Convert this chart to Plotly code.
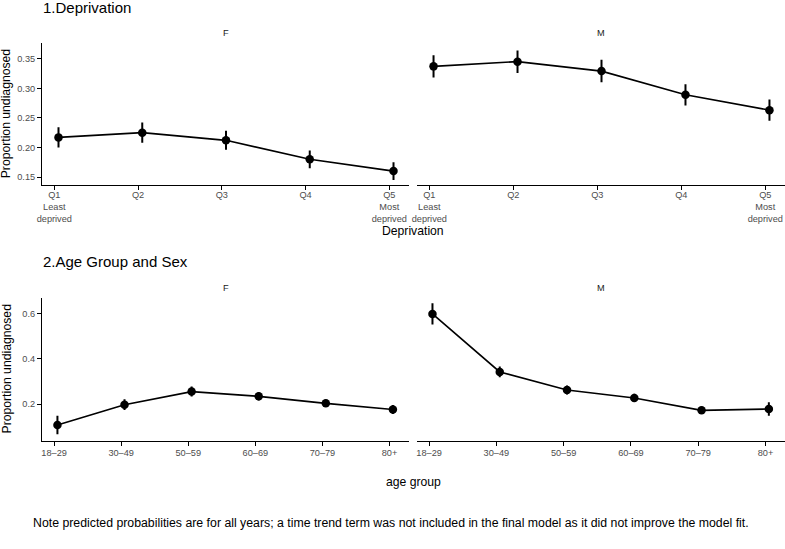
import plotly.graph_objects as go

# ---------------- data ----------------
dep_labels = ["Q1<br>Least<br>deprived", "Q2", "Q3", "Q4", "Q5<br>Most<br>deprived"]
dep_F = [0.217, 0.225, 0.212, 0.180, 0.160]
dep_F_err = [0.017, 0.017, 0.016, 0.015, 0.015]
dep_M = [0.337, 0.345, 0.329, 0.289, 0.263]
dep_M_err = [0.019, 0.019, 0.019, 0.018, 0.018]

age_labels = ["18–29", "30–49", "50–59", "60–69", "70–79", "80+"]
age_F = [0.107, 0.197, 0.255, 0.234, 0.203, 0.176]
age_F_err = [0.041, 0.024, 0.022, 0.018, 0.016, 0.020]
age_M = [0.599, 0.342, 0.262, 0.227, 0.172, 0.178]
age_M_err = [0.047, 0.024, 0.020, 0.018, 0.016, 0.030]

note = ("Note predicted probabilities are for all years; a time trend term was not "
        "included in the final model as it did not improve the model fit.")

# ---------------- layout helpers ----------------
W, H = 785, 549
FONT = "Liberation Sans, Arial, Helvetica, sans-serif"
DODGE = 0.05


def px_x(p):
    return p / W


def px_y(p):
    return 1 - p / H


xF = [px_x(42), px_x(409)]
xM = [px_x(417), 1.0]
yTop = [px_y(185.3), px_y(43.3)]
yBot = [px_y(440.7), px_y(298.3)]

fig = go.Figure()


def add_panel(values, errs, xa, ya):
    xs = [i + DODGE for i in range(len(values))]
    fig.add_trace(go.Scatter(
        x=xs, y=values, xaxis=xa, yaxis=ya, mode="lines+markers",
        line=dict(color="black", width=1.6),
        marker=dict(color="black", size=8.5),
        error_y=dict(type="data", array=errs, visible=True, color="black",
                     thickness=2, width=0),
        showlegend=False, hoverinfo="x+y"))


add_panel(dep_F, dep_F_err, "x", "y")
add_panel(dep_M, dep_M_err, "x2", "y2")
add_panel(age_F, age_F_err, "x3", "y3")
add_panel(age_M, age_M_err, "x4", "y4")

tickfont = dict(family=FONT, size=9.2, color="#4D4D4D")


def xaxis(domain, anchor, labels, rng, standoff):
    return dict(domain=domain, anchor=anchor, range=rng, showgrid=False, zeroline=False,
                showline=True, linecolor="black", linewidth=1.1, automargin=False,
                ticks="outside", ticklen=4, tickwidth=1, tickcolor="black",
                ticklabelstandoff=standoff,
                tickmode="array", tickvals=list(range(len(labels))), ticktext=labels,
                tickfont=tickfont, fixedrange=True)


def yaxis(domain, anchor, rng, dtick, fmt, show):
    d = dict(domain=domain, anchor=anchor, range=rng, showgrid=False, zeroline=False,
             fixedrange=True, automargin=False)
    if show:
        d.update(showline=True, linecolor="black", linewidth=1.1, ticks="outside",
                 ticklen=4, tickwidth=1, tickcolor="black", dtick=dtick, tick0=0,
                 tickformat=fmt, tickfont=tickfont)
    else:
        d.update(showline=False, ticks="", showticklabels=False, dtick=dtick, tick0=0)
    return d


top_rng = [-0.147, 4.235]
bot_rng = [-0.18, 5.29]

fig.update_layout(
    width=W, height=H, margin=dict(l=0, r=0, t=0, b=0, autoexpand=False),
    paper_bgcolor="white", plot_bgcolor="white",
    font=dict(family=FONT, color="black"),
    xaxis=xaxis(xF, "y", dep_labels, top_rng, -3),
    xaxis2=xaxis(xM, "y2", dep_labels, top_rng, -3),
    xaxis3=xaxis(xF, "y3", age_labels, bot_rng, -1),
    xaxis4=xaxis(xM, "y4", age_labels, bot_rng, -1),
    yaxis=yaxis(yTop, "x", [0.136, 0.376], 0.05, ".2f", True),
    yaxis2=yaxis(yTop, "x2", [0.136, 0.376], 0.05, ".2f", False),
    yaxis3=yaxis(yBot, "x3", [0.0376, 0.668], 0.2, ".1f", True),
    yaxis4=yaxis(yBot, "x4", [0.0376, 0.668], 0.2, ".1f", False),
)

ann = []


def text(t, x, y, size, xanchor="center", color="black", angle=0):
    ann.append(dict(text=t, x=x, y=y, xref="paper", yref="paper", xanchor=xanchor,
                    yanchor="middle", showarrow=False, textangle=angle,
                    font=dict(family=FONT, size=size, color=color)))


text("1.Deprivation", px_x(41), px_y(7), 15, xanchor="left")
text("2.Age Group and Sex", px_x(41), px_y(261), 15, xanchor="left")
for lab, dom in (("F", xF), ("M", xM)):
    cx = (dom[0] + dom[1]) / 2
    text(lab, cx, px_y(33), 9.2, color="#1A1A1A")
    text(lab, cx, px_y(288), 9.2, color="#1A1A1A")
text("Proportion undiagnosed", px_x(6), (yTop[0] + yTop[1]) / 2, 12.2, angle=-90)
text("Proportion undiagnosed", px_x(6), (yBot[0] + yBot[1]) / 2, 12.2, angle=-90)
text("Deprivation", px_x(413), px_y(231), 12.2)
text("age group", px_x(413), px_y(482), 12.2)
text(note, px_x(31), px_y(523), 12.3, xanchor="left")

fig.update_layout(annotations=ann)

fig.write_html("out.html")
